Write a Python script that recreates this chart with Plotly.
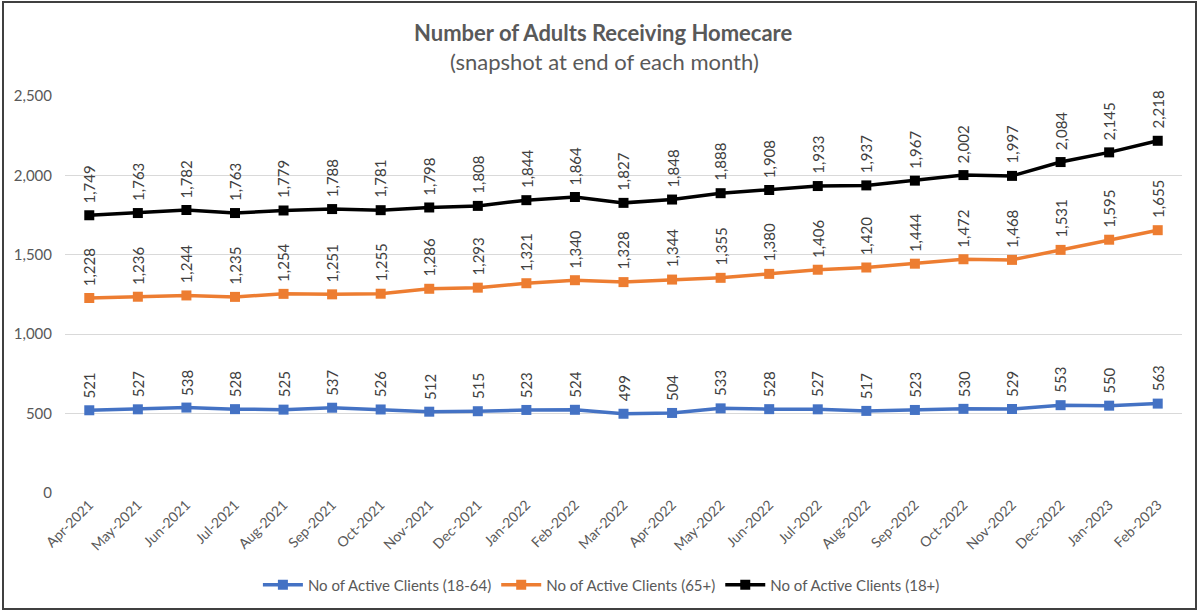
import plotly.graph_objects as go

months = ["Apr-2021", "May-2021", "Jun-2021", "Jul-2021", "Aug-2021", "Sep-2021", "Oct-2021",
          "Nov-2021", "Dec-2021", "Jan-2022", "Feb-2022", "Mar-2022", "Apr-2022", "May-2022",
          "Jun-2022", "Jul-2022", "Aug-2022", "Sep-2022", "Oct-2022", "Nov-2022", "Dec-2022",
          "Jan-2023", "Feb-2023"]
clients_18_64 = [521, 527, 538, 528, 525, 537, 526, 512, 515, 523, 524, 499, 504, 533, 528, 527,
                 517, 523, 530, 529, 553, 550, 563]
clients_65 = [1228, 1236, 1244, 1235, 1254, 1251, 1255, 1286, 1293, 1321, 1340, 1328, 1344, 1355,
              1380, 1406, 1420, 1444, 1472, 1468, 1531, 1595, 1655]
clients_18 = [1749, 1763, 1782, 1763, 1779, 1788, 1781, 1798, 1808, 1844, 1864, 1827, 1848, 1888,
              1908, 1933, 1937, 1967, 2002, 1997, 2084, 2145, 2218]
series_names = ["No of Active Clients (18-64)", "No of Active Clients (65+)", "No of Active Clients (18+)"]
colors = ["#4472C4", "#ED7D31", "#000000"]
y_ticks = [0, 500, 1000, 1500, 2000, 2500]

FONT = "Lato"
PL, PR, PT, PB = 65, 1182, 96, 493
PW, PH = PR - PL, PB - PT


def px_x(x):
    return (x - PL) / PW


def px_y(y):
    return (PB - y) / PH


fig = go.Figure()
annotations = []
for name, vals, col in zip(series_names, [clients_18_64, clients_65, clients_18], colors):
    fig.add_trace(go.Scatter(
        x=months, y=vals, name=name, mode="lines+markers",
        line=dict(color=col, width=3.5),
        marker=dict(symbol="square", size=10, color=col),
    ))
    for m, v in zip(months, vals):
        annotations.append(dict(
            x=m, y=v, xref="x", yref="y", text=f"{v:,}", showarrow=False,
            textangle=-90, yanchor="bottom", xanchor="center", yshift=10,
            font=dict(family=FONT, size=15, color="#404040"),
        ))

annotations.append(dict(
    x=px_x(603), y=px_y(32), xref="paper", yref="paper",
    text="<b>Number of Adults Receiving Homecare</b>", showarrow=False,
    font=dict(family=FONT, size=22, color="#595959"), xanchor="center", yanchor="middle"))
annotations.append(dict(
    x=px_x(604), y=px_y(62), xref="paper", yref="paper",
    text="(snapshot at end of each month)", showarrow=False,
    font=dict(family=FONT, size=22, color="#595959"), xanchor="center", yanchor="middle"))

fig.update_layout(
    width=1198, height=612,
    margin=dict(l=PL, r=1198 - PR, t=PT, b=612 - PB),
    paper_bgcolor="white", plot_bgcolor="white",
    font=dict(family=FONT, color="#595959"),
    showlegend=True,
    legend=dict(orientation="h", xref="container", yref="container", x=0.502, y=1 - 585 / 612,
                xanchor="center", yanchor="middle", font=dict(family=FONT, size=15, color="#595959"),
                itemwidth=40, tracegroupgap=0),
    annotations=annotations,
    shapes=[dict(type="rect", xref="paper", yref="paper",
                 x0=px_x(3), x1=px_x(1196), y0=px_y(609), y1=px_y(2),
                 line=dict(color="#404040", width=2), fillcolor="rgba(0,0,0,0)", layer="below")],
)
fig.update_xaxes(
    type="category", range=[-0.5, len(months) - 0.5], showgrid=False, showline=False,
    zeroline=False, tickangle=-45, tickfont=dict(family=FONT, size=14, color="#595959"), ticks="",
)
fig.update_yaxes(
    range=[0, 2500], tickvals=y_ticks, tickformat=",", showgrid=True, gridcolor="#D9D9D9",
    gridwidth=1, zeroline=False, showline=False, ticks="",
    tickfont=dict(family=FONT, size=15, color="#595959"), ticklabelstandoff=12,
)
fig.write_html("out.html")
